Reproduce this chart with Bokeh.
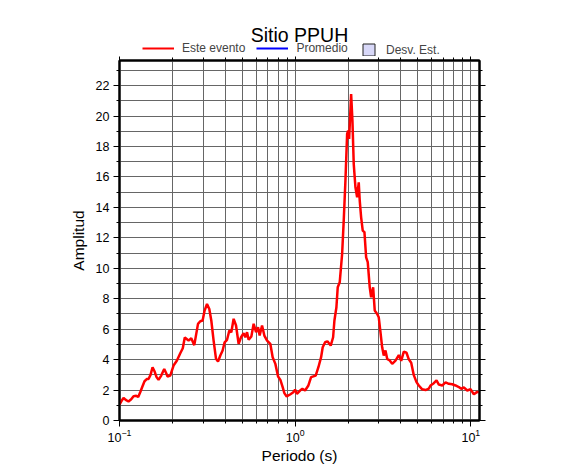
from bokeh.plotting import figure
from bokeh.layouts import column
from bokeh.models import (LogAxis, LinearAxis, FixedTicker, SingleIntervalTicker,
                          Legend, LegendItem, Label, CustomJSTickFormatter, Range1d)
from bokeh.embed import file_html
from bokeh.resources import INLINE

# ---- data ----
periods = [0.1000, 0.1029, 0.1054, 0.1085, 0.1125, 0.1166, 0.1202, 0.1245, 0.1278, 0.1312,
           0.1347, 0.1388, 0.1429, 0.1463, 0.1502, 0.1542, 0.1587, 0.1625, 0.1668, 0.1728,
           0.1797, 0.1845, 0.1877, 0.1945, 0.2031, 0.2123, 0.2218, 0.2292, 0.2353, 0.2473,
           0.2562, 0.2665, 0.2798, 0.2883, 0.2972, 0.3051, 0.3148, 0.3245, 0.3331, 0.3433,
           0.3543, 0.3637, 0.3749, 0.3864, 0.3967, 0.4094, 0.4219, 0.4331, 0.4464, 0.4606,
           0.4766, 0.4918, 0.5089, 0.5204, 0.5321, 0.5434, 0.5630, 0.5803, 0.5988, 0.6147,
           0.6278, 0.6478, 0.6677, 0.6918, 0.7223, 0.7444, 0.7713, 0.7991, 0.8236, 0.8489,
           0.8678, 0.8944, 0.9353, 0.9766, 0.9987, 1.0226, 1.0664, 1.0990, 1.1387, 1.1891,
           1.2320, 1.2697, 1.3086, 1.3558, 1.4047, 1.4345, 1.4804, 1.5258, 1.5933, 1.6443,
           1.6726, 1.7170, 1.7465, 1.7929, 1.8503, 1.8896, 1.9322, 1.9758, 2.0018, 2.0283,
           2.0822, 2.1180, 2.1544, 2.2030, 2.2527, 2.3004, 2.3307, 2.3739, 2.4242, 2.4789,
           2.5348, 2.5886, 2.6573, 2.7066, 2.7786, 2.8375, 2.9286, 2.9907, 3.0582, 3.1272,
           3.1935, 3.2656, 3.3393, 3.4551, 3.5657, 3.7236, 3.8884, 4.0130, 4.1521, 4.3018,
           4.4336, 4.5755, 4.7342, 4.9048, 5.0552, 5.2858, 5.5197, 5.7638, 5.8938, 6.1548,
           6.3767, 6.5722, 6.8722, 7.1763, 7.4939, 7.8356, 8.1823, 8.5445, 8.8180, 9.1223,
           9.5387, 9.9607, 10.401, 10.876, 11.2]

amplitude = [1.05, 1.3, 1.49, 1.35, 1.25, 1.4, 1.6, 1.62, 1.55, 1.86,
             2.2, 2.58, 2.72, 2.73, 3.0, 3.5, 3.2, 2.85, 2.67, 2.95,
             3.39, 3.1, 2.89, 2.95, 3.61, 3.94, 4.42, 4.75, 5.45, 5.25,
             5.4, 4.95, 6.35, 6.52, 6.57, 7.22, 7.65, 7.33, 6.57, 5.25,
             4.05, 3.88, 4.27, 4.6, 5.14, 5.3, 5.91, 5.8, 6.68, 6.24,
             5.03, 5.47, 5.73, 5.47, 5.8, 5.3, 5.52, 6.35, 5.8, 6.13,
             5.58, 6.24, 5.58, 5.25, 5.03, 4.16, 3.72, 2.89, 2.67, 2.19,
             1.8, 1.58, 1.71, 1.86, 2.03, 1.75, 1.97, 2.08, 1.97, 2.3,
             2.85, 2.9, 2.95, 3.5, 4.16, 4.81, 5.14, 5.2, 4.92, 5.47,
             6.57, 7.44, 8.75, 9.08, 10.94, 13.13, 15.76, 18.83, 19.04, 18.5,
             21.45, 19.7, 16.86, 15.32, 14.66, 15.65, 14.45, 13.35, 12.48, 12.37,
             10.72, 10.4, 8.75, 8.1, 8.75, 7.22, 7.0, 6.78, 5.8, 4.81,
             4.27, 4.6, 4.05, 3.94, 3.72, 3.94, 4.3, 3.92, 4.52, 4.45,
             4.02, 3.8, 2.98, 2.52, 2.3, 2.05, 2.0, 2.1, 2.3, 2.45,
             2.63, 2.36, 2.3, 2.5, 2.41, 2.38, 2.3, 2.2, 2.08, 2.18,
             1.97, 2.05, 1.72, 1.88, 1.86]

title_text = "Sitio PPUH"
x_label = "Periodo (s)"
y_label = "Amplitud"
legend_labels = ["Este evento", "Promedio", "Desv. Est."]
x_major_ticks = [0.1, 1, 10]
x_minor_ticks = [0.2, 0.3, 0.4, 0.5, 0.6, 0.7, 0.8, 0.9,
                 2, 3, 4, 5, 6, 7, 8, 9]
x_limits = (0.1, 11.2)
y_limits = (0, 23.65)

FONT = "Liberation Sans"
GRID = "#666666"
NAN = float("nan")

# ---------------- main plot ----------------
p = figure(title=None, frame_width=360, frame_height=360,
           min_border_left=119, min_border_right=99,
           min_border_top=4, min_border_bottom=45,
           x_axis_type="log",
           x_range=Range1d(*x_limits), y_range=Range1d(*y_limits),
           output_backend="svg", toolbar_location=None,
           background_fill_color="white", border_fill_color="white")
p.outline_line_color = "black"
p.outline_line_width = 2

xticker = FixedTicker(ticks=x_major_ticks, minor_ticks=x_minor_ticks)
yticker = SingleIntervalTicker(interval=2, num_minor_ticks=2)

bottom_axis = p.below[0]
left_axis = p.left[0]
bottom_axis.ticker = xticker
left_axis.ticker = yticker
bottom_axis.axis_label = x_label
left_axis.axis_label = y_label

blank = CustomJSTickFormatter(code="return ''")
top_axis = LogAxis(ticker=xticker, formatter=blank)
right_axis = LinearAxis(ticker=yticker, formatter=blank)
p.add_layout(top_axis, "above")
p.add_layout(right_axis, "right")

for ax in [bottom_axis, left_axis, top_axis, right_axis]:
    ax.axis_line_width = 2
    ax.axis_line_color = "black"
    ax.major_tick_line_color = "black"
    ax.minor_tick_line_color = "black"
    ax.major_tick_in = 0
    ax.major_tick_out = 6
    ax.minor_tick_in = 0
    ax.minor_tick_out = 3
    ax.major_label_text_font = FONT
    ax.major_label_text_font_size = "12.5px"
    ax.major_label_text_color = "black"
    ax.major_label_standoff = 4
    ax.axis_label_text_font = FONT
    ax.axis_label_text_font_size = "15.5px"
    ax.axis_label_text_font_style = "normal"
    ax.axis_label_text_color = "black"

for ax in [top_axis, right_axis]:
    ax.major_label_standoff = 0
    ax.major_label_text_font_size = "0px"
top_axis.major_tick_out = 4

bottom_axis.major_label_standoff = 2
bottom_axis.axis_label_standoff = 2
left_axis.axis_label_standoff = 6

p.xgrid.ticker = xticker
p.ygrid.ticker = yticker
for g in [p.xgrid[0], p.ygrid[0]]:
    g.grid_line_color = GRID
    g.grid_line_width = 1
    g.minor_grid_line_color = GRID
    g.minor_grid_line_width = 1

p.line(periods, amplitude, line_color="#ff0000", line_width=2.5)

# ---------------- header: title and legend ----------------
h = figure(title=None, frame_width=360, frame_height=56,
           min_border_left=119, min_border_right=99,
           min_border_top=0, min_border_bottom=0,
           x_range=Range1d(0, 1), y_range=Range1d(0, 1),
           x_axis_location=None, y_axis_location=None,
           output_backend="svg", toolbar_location=None,
           background_fill_color="white", border_fill_color="white")
h.outline_line_color = None
h.xgrid.visible = False
h.ygrid.visible = False

k_event = h.line(x=[NAN], y=[NAN], line_color="#ff0000", line_width=2)
k_mean = h.line(x=[NAN], y=[NAN], line_color="#0000ff", line_width=2)
k_std = h.quad(left=[NAN], right=[NAN], top=[NAN], bottom=[NAN],
               fill_color="#d8d8f8", line_color="#222222", line_width=1)

leg1 = Legend(items=[LegendItem(label=legend_labels[0], renderers=[k_event]),
                     LegendItem(label=legend_labels[1], renderers=[k_mean])],
              location=(23, 1), orientation="horizontal",
              glyph_width=32, glyph_height=12, label_height=12,
              label_standoff=8, spacing=11, padding=0, margin=0,
              border_line_color=None, background_fill_alpha=0,
              label_text_font=FONT, label_text_font_size="12px")
leg2 = Legend(items=[LegendItem(label=legend_labels[2], renderers=[k_std])],
              location=(242, -1), orientation="horizontal",
              glyph_width=15, glyph_height=15, label_height=15,
              label_standoff=10, spacing=0, padding=0, margin=0,
              border_line_color=None, background_fill_alpha=0,
              label_text_font=FONT, label_text_font_size="12px")
h.add_layout(leg1)
h.add_layout(leg2)

h.add_layout(Label(x=180, y=22, x_units="screen", y_units="screen",
                   text=title_text, text_align="center", text_baseline="middle",
                   text_font=FONT, text_font_size="19.5px", text_color="black"))

layout = column(h, p, spacing=0)
open("out.html", "w").write(file_html(layout, INLINE))
